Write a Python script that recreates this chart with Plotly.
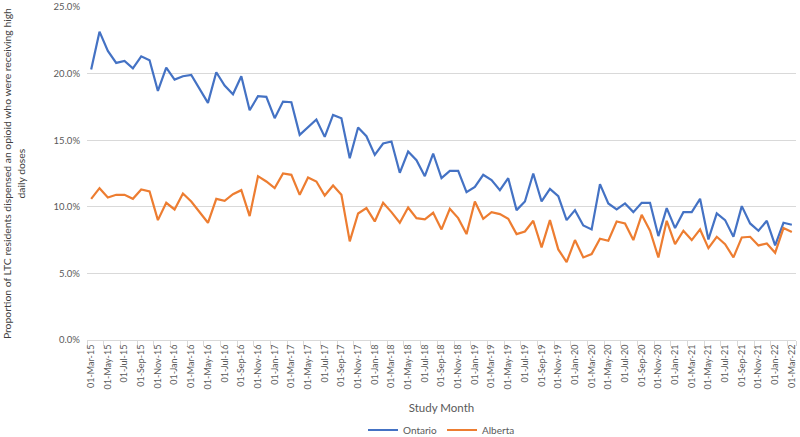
import pandas as pd
import plotly.graph_objects as go

# monthly study months, Mar 2015 to Mar 2022
months = pd.date_range("2015-03-01", "2022-03-01", freq="MS").strftime("%d-%b-%y").tolist()

# % of LTC residents on an opioid who got high daily doses
ontario = [20.3, 23.15, 21.7, 20.8, 20.95, 20.4, 21.3, 21.0, 18.7, 20.45,
           19.55, 19.8, 19.9, 18.9, 17.8, 20.1, 19.1, 18.45, 19.8, 17.25,
           18.3, 18.25, 16.65, 17.9, 17.85, 15.4, 15.95, 16.55, 15.25, 16.9,
           16.65, 13.65, 15.95, 15.3, 13.9, 14.75, 14.9, 12.55, 14.15, 13.5,
           12.3, 14.0, 12.15, 12.7, 12.7, 11.1, 11.5, 12.4, 12.0, 11.25,
           12.15, 9.75, 10.4, 12.5, 10.4, 11.35, 10.8, 9.0, 9.75, 8.6,
           8.3, 11.7, 10.25, 9.8, 10.25, 9.6, 10.3, 10.3, 7.8, 9.9,
           8.4, 9.6, 9.6, 10.6, 7.55, 9.5, 9.0, 7.75, 10.05, 8.75,
           8.2, 8.95, 7.1, 8.8, 8.65]
alberta = [10.6, 11.4, 10.7, 10.9, 10.9, 10.6, 11.3, 11.15, 9.0, 10.3,
           9.8, 11.0, 10.4, 9.6, 8.8, 10.6, 10.45, 10.95, 11.25, 9.3,
           12.3, 11.9, 11.4, 12.5, 12.4, 10.9, 12.2, 11.9, 10.85, 11.6,
           10.9, 7.4, 9.5, 9.9, 8.9, 10.3, 9.6, 8.8, 9.95, 9.15,
           9.05, 9.55, 8.3, 9.85, 9.15, 7.95, 10.4, 9.1, 9.6, 9.45,
           9.1, 7.95, 8.15, 8.95, 6.95, 9.0, 6.8, 5.85, 7.5, 6.2,
           6.45, 7.6, 7.45, 8.9, 8.75, 7.5, 9.4, 8.2, 6.2, 8.95,
           7.2, 8.2, 7.5, 8.3, 6.9, 7.75, 7.2, 6.2, 7.7, 7.75,
           7.1, 7.25, 6.55, 8.4, 8.1]

fig = go.Figure()
fig.add_trace(go.Scatter(x=months, y=ontario, mode="lines", name="Ontario",
                         line=dict(color="#4472C4", width=2.2)))
fig.add_trace(go.Scatter(x=months, y=alberta, mode="lines", name="Alberta",
                         line=dict(color="#ED7D31", width=2.2)))

grey = "#595959"
fig.update_layout(
    width=800, height=437,
    margin=dict(l=87, r=4, t=7, b=97, autoexpand=False),
    paper_bgcolor="white", plot_bgcolor="white",
    font=dict(family="Lato", color=grey, size=11),
    legend=dict(orientation="h", x=0.5, xanchor="center",
                yref="container", y=0.016, yanchor="middle",
                font=dict(size=10, color=grey), itemwidth=30),
    xaxis=dict(type="category", tickvals=months[::2], tickangle=-90,
               range=[-0.5, len(months) - 0.5], automargin=False,
               tickfont=dict(size=9, color=grey), showgrid=False,
               ticks="outside", tickson="boundaries", ticklen=5, tickcolor="#d9d9d9",
               showline=True, linecolor="#d9d9d9", linewidth=1,
               title=dict(text="Study Month", font=dict(size=11.5, color=grey), standoff=15)),
    yaxis=dict(range=[0, 25], dtick=5, tickformat=".1f", ticksuffix="%", automargin=False,
               tickfont=dict(size=9.5, color=grey), gridcolor="#d9d9d9", gridwidth=1,
               zeroline=False, ticks="", ticklabelstandoff=6),
    annotations=[dict(text="Proportion of LTC residents dispensed an opioid who were receiving high<br>daily doses",
                      xref="paper", yref="paper", x=-0.1035, y=0.5, xanchor="center", yanchor="middle",
                      textangle=-90, showarrow=False, font=dict(size=10.4, color="#404040"))],
)

# drop the browser's default body margin so the figure sits at the page corner
fig.write_html("out.html", config={"displayModeBar": False},
               post_script="document.body.style.margin='0';")
